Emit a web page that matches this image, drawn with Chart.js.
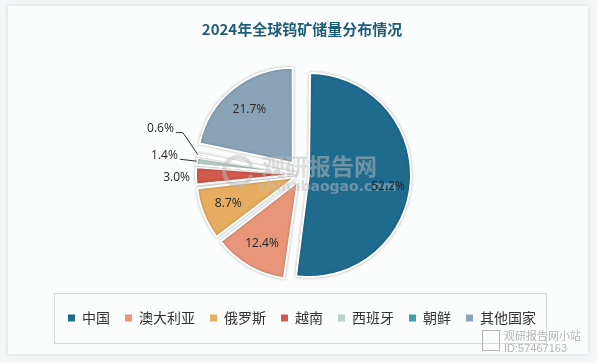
<!DOCTYPE html>
<html>
<head>
<meta charset="utf-8">
<script src="https://cdn.jsdelivr.net/npm/chart.js@4.4.1/dist/chart.umd.min.js"></script>
<style>
  html, body { margin: 0; padding: 0; background: #f5f6f7; }
</style>
</head>
<body>
<canvas id="resultado" width="597" height="363"></canvas>
<script>
// datos
const paises = ['中国', '澳大利亚', '俄罗斯', '越南', '西班牙', '朝鲜', '其他国家'];
const porcentajes = [52.2, 12.4, 8.7, 3.0, 1.4, 0.6, 21.7];
const colores = ['#1f6b8e', '#e8957a', '#e6ac5f', '#d15a4b', '#b9d3c4', '#3aa0a9', '#8ba3b7'];
// separacion real de cada sector en px
const desplazamiento = [14, 11, 11, 11, 11, 11, 15];

const fuenteCJK = '"Noto Sans CJK SC", "Noto Sans", sans-serif';

// Chart.js v4 traslada offset/4 * (2 - sin(min(PI, circ))), lo invertimos
const totalPct = porcentajes.reduce((a, b) => a + b, 0);
const offsets = desplazamiento.map((d, i) => {
    const circ = porcentajes[i] / totalPct * Math.PI * 2;
    return 4 * d / (2 - Math.sin(Math.min(Math.PI, circ)));
});

// fondo y marco
const fondo = {
    id: 'fondo',
    beforeDraw(chart) {
        const c = chart.ctx;
        c.save();
        c.fillStyle = '#f5f6f7';
        c.fillRect(0, 0, chart.width, chart.height);
        c.shadowColor = 'rgba(0,0,0,0.12)';
        c.shadowBlur = 5;
        c.fillStyle = '#fbfcfc';
        c.fillRect(8, 6, 580, 348);
        c.restore();
    }
};

// sombra de los sectores, marca de agua y etiquetas
const etiquetas = {
    id: 'etiquetas',
    beforeDatasetsDraw(chart) {
        const c = chart.ctx;
        c.save();
        c.shadowColor = 'rgba(0,0,0,0.25)';
        c.shadowBlur = 3;
    },
    afterDatasetsDraw(chart) {
        const c = chart.ctx;
        c.restore();

        // marca de agua central
        c.save();
        c.fillStyle = 'rgba(190,190,190,0.5)';
        c.strokeStyle = 'rgba(190,190,190,0.5)';
        c.lineWidth = 4;
        c.beginPath();
        c.arc(238, 171, 14, 0.3, Math.PI * 2 - 0.3);
        c.stroke();
        c.font = 'bold 23px ' + fuenteCJK;
        c.textAlign = 'left';
        c.textBaseline = 'middle';
        c.fillText('观研报告网', 262, 166);
        c.font = 'bold 14px "DejaVu Sans", sans-serif';
        c.fillText('chinabaogao.com', 258, 187);
        c.restore();

        const meta = chart.getDatasetMeta(0);
        c.save();
        c.font = '12px "Open Sans", "Liberation Sans", sans-serif';
        c.fillStyle = '#262626';
        c.strokeStyle = '#333';
        c.lineWidth = 1;
        c.textBaseline = 'middle';
        meta.data.forEach((arco, i) => {
            const p = arco.getProps(['x', 'y', 'startAngle', 'endAngle', 'outerRadius']);
            const medio = (p.startAngle + p.endAngle) / 2;
            const off = desplazamiento[i];
            const cx = p.x + Math.cos(medio) * off;
            const cy = p.y + Math.sin(medio) * off;
            const texto = porcentajes[i].toFixed(1) + '%';
            const bx = cx + Math.cos(medio) * p.outerRadius;
            const by = cy + Math.sin(medio) * p.outerRadius;
            if (porcentajes[i] >= 5) {
                c.textAlign = 'center';
                const k = i === 0 ? 0.76 : 0.72;
                const dy = i === 0 ? 6 : 0;
                c.fillText(texto, cx + Math.cos(medio) * p.outerRadius * k, cy + Math.sin(medio) * p.outerRadius * k + dy);
            } else if (i === 3) {
                c.textAlign = 'right';
                c.fillText(texto, bx - 6, by + 1.5);
            } else if (i === 4) {
                c.beginPath();
                c.moveTo(bx, by);
                c.lineTo(bx - 17, by - 2);
                c.stroke();
                c.textAlign = 'right';
                c.fillText(texto, bx - 19, by - 6);
            } else {
                c.beginPath();
                c.moveTo(bx, by);
                c.lineTo(bx - 15, by - 22);
                c.lineTo(bx - 22, by - 22);
                c.stroke();
                c.textAlign = 'right';
                c.fillText(texto, bx - 24, by - 26);
            }
        });
        c.restore();
    }
};

// caja de la leyenda y marca de agua inferior
const extras = {
    id: 'extras',
    afterDraw(chart) {
        const c = chart.ctx;
        const ley = chart.legend;
        const cajas = ley.legendHitBoxes;
        let izq = Infinity, der = -Infinity;
        cajas.forEach(h => {
            izq = Math.min(izq, h.left);
            der = Math.max(der, h.left + h.width);
        });
        const arriba = cajas[0].top;
        c.save();
        c.strokeStyle = '#d6d8da';
        c.lineWidth = 1;
        c.strokeRect(Math.round(izq - 14) + 0.5, Math.round(arriba - 18) + 0.5, Math.round(der - izq + 24), 50);

        c.fillStyle = '#b4b4b4';
        c.strokeStyle = '#b4b4b4';
        c.strokeRect(482.5, 330.5, 17, 20);
        c.textAlign = 'left';
        c.textBaseline = 'middle';
        c.font = '11px ' + fuenteCJK;
        c.fillText('观研报告网小站', 504, 336);
        c.font = '11px "Liberation Sans", sans-serif';
        c.fillText('ID:57467163', 504, 349);
        c.restore();
    }
};

const ctx = document.getElementById('resultado').getContext('2d');
const myChart = new Chart(ctx, {
    type: 'pie',
    data: {
        labels: paises,
        datasets: [{
            data: porcentajes,
            backgroundColor: colores,
            borderColor: '#ffffff',
            borderWidth: 2,
            offset: offsets,
            hoverOffset: 0
        }]
    },
    options: {
        responsive: false,
        animation: false,
        radius: 95,
        layout: {
            padding: { left: 7, right: 0, top: 0, bottom: 28 }
        },
        plugins: {
            title: {
                display: true,
                text: '2024年全球钨矿储量分布情况',
                color: '#1e5d78',
                font: { family: fuenteCJK, size: 15, weight: 'bold' },
                padding: { top: 20, bottom: 15 }
            },
            legend: {
                position: 'bottom',
                labels: {
                    color: '#333333',
                    font: { family: fuenteCJK, size: 14 },
                    boxWidth: 7,
                    boxHeight: 7,
                    padding: 15,
                    generateLabels(chart) {
                        const items = Chart.overrides.pie.plugins.legend.labels.generateLabels(chart);
                        items.forEach(it => { it.lineWidth = 0; it.strokeStyle = it.fillStyle; });
                        return items;
                    }
                }
            },
            tooltip: { enabled: false }
        }
    },
    plugins: [fondo, etiquetas, extras]
});
</script>
</body>
</html>
